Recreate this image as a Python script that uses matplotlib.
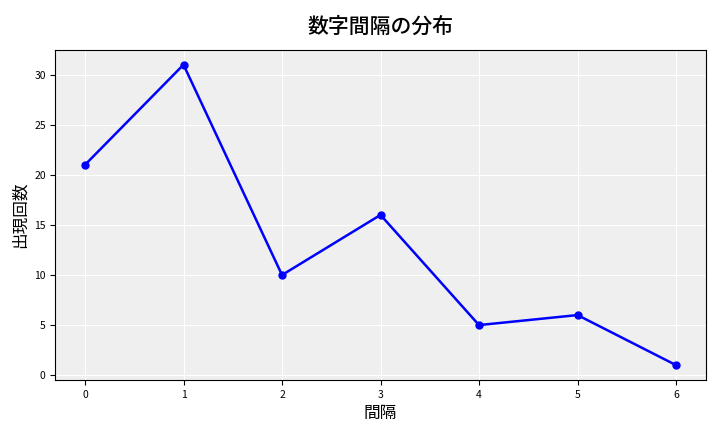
import matplotlib
matplotlib.use("Agg")
import matplotlib.pyplot as plt

plt.rcParams['font.family'] = ['Noto Sans CJK JP', 'DejaVu Sans']

gaps = [0, 1, 2, 3, 4, 5, 6]
counts = [21, 31, 10, 16, 5, 6, 1]

fig, ax = plt.subplots(figsize=(7.2, 4.32), dpi=100)
ax.set_facecolor('#efefef')
ax.plot(gaps, counts, color='blue', marker='o', markersize=5, linewidth=1.8)
ax.grid(True, color='white', linewidth=0.8)
ax.set_axisbelow(True)
ax.set_title('数字間隔の分布', fontsize=15, fontweight='medium', pad=12)
ax.set_xlabel('間隔', fontsize=12)
ax.set_ylabel('出現回数', fontsize=12)
ax.tick_params(labelsize=7.5)
fig.subplots_adjust(left=0.077, right=0.98, top=0.885, bottom=0.12)
fig.savefig('out.png')
